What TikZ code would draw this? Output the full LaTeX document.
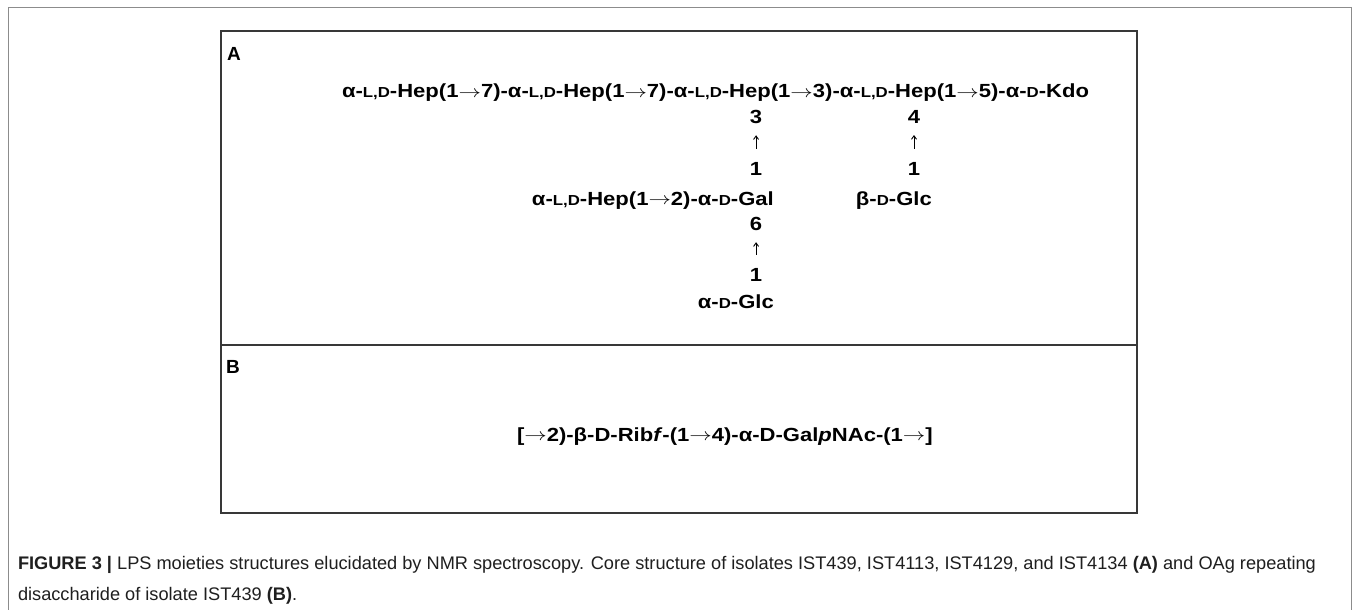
\documentclass[tikz,border=0pt]{standalone}
\usepackage{fontspec}
\setmainfont{Liberation Sans}
\newfontfamily\chemfont[FakeStretch=1.16]{Liberation Sans}
\usetikzlibrary{arrows.meta}
\newcommand{\sml}[1]{{\fontsize{14.5}{17}\selectfont #1}}
\newcommand{\ra}{\raisebox{0.5pt}{\scalebox{1.3}[1]{$\rightarrow$}}}
\tikzset{
  chem/.style={inner sep=0pt, outer sep=0pt, font=\chemfont\fontsize{19}{23}\selectfont\bfseries},
  captext/.style={inner sep=0pt, outer sep=0pt, anchor=base west, text=black!88, font=\fontsize{18.2}{21}\selectfont},
  lbl/.style={inner sep=0pt, outer sep=0pt, anchor=base west, font=\fontsize{19}{23}\selectfont\bfseries},
  link/.style={line width=0.9pt, -{Straight Barb[length=3.5pt,width=5pt]}, shorten <=13pt, shorten >=12pt},
  outerframe/.style={draw=black!45, line width=1pt},
  panel/.style={draw=black!78, line width=1.5pt}
}
\begin{document}
\begin{tikzpicture}[x=1pt,y=-1pt]
\useasboundingbox (0,0) rectangle (1358,610);
\fill[white] (0,0) rectangle (1358,610);
% frames
\draw[outerframe] (8,620) -- (8,8) -- (1351,8) -- (1351,620);
\draw[panel] (221,31) rectangle (1137,513);
\draw[panel] (221,345) -- (1137,345);
\node[lbl] (la) at (227,60) {A};
\node[lbl] (lb) at (226,373) {B};
% main chain
\node[chem, anchor=base west] (m1) at (342,98) {α-\sml{L,D}-Hep(1\ra7)-};
\node[chem, anchor=base west] (m2) at (m1.base east) {α-\sml{L,D}-Hep(1\ra7)-};
\node[chem, anchor=base west] (m3a) at (m2.base east) {α-\sml{L,D}-};
\node[chem, anchor=base west] (hep3) at (m3a.base east) {Hep};
\node[chem, anchor=base west] (m3b) at (hep3.base east) {(1\ra3)-};
\node[chem, anchor=base west] (m4a) at (m3b.base east) {α-\sml{L,D}-};
\node[chem, anchor=base west] (hep4) at (m4a.base east) {Hep};
\node[chem, anchor=base west] (m4b) at (hep4.base east) {(1\ra5)-};
\node[chem, anchor=base west] (m5) at (m4b.base east) {α-\sml{D}-Kdo};
\coordinate (colA) at ([xshift=6pt]hep3.base);
\coordinate (colB) at ([xshift=-2pt]hep4.base);
% branch at Hep 3
\node[chem, anchor=base] (p3) at (colA |- 0,123) {3};
\node[chem, anchor=base] (q1) at (colA |- 0,175) {1};
\draw[link] (q1.north) -- (p3.south);
\node[chem, anchor=base] (gal) at (colA |- 0,205) {Gal};
\node[chem, anchor=base east] (galpre) at (gal.base west) {α-\sml{L,D}-Hep(1\ra2)-α-\sml{D}-};
\node[chem, anchor=base] (p6) at (colA |- 0,230) {6};
\node[chem, anchor=base] (q2) at (colA |- 0,281) {1};
\draw[link] (q2.north) -- (p6.south);
\node[chem, anchor=base] (glc1) at (colA |- 0,308) {Glc};
\node[chem, anchor=base east] (glc1pre) at (glc1.base west) {α-\sml{D}-};
% branch at Hep 4
\node[chem, anchor=base] (p4) at (colB |- 0,123) {4};
\node[chem, anchor=base] (q3) at (colB |- 0,175) {1};
\draw[link] (q3.north) -- (p4.south);
\node[chem, anchor=base] (glc2) at (colB |- 0,205) {Glc};
\node[chem, anchor=base east] (glc2pre) at (glc2.base west) {β-\sml{D}-};
% panel B
\node[chem, anchor=base west] (oag) at (517,441) {[\ra2)-β-D-Rib\textit{f}-(1\ra4)-α-D-Gal\textit{p}NAc-(1\ra]};
% caption
\node[captext] (c1) at (18,569) {\textbf{FIGURE 3 |} LPS moieties structures elucidated by NMR spectroscopy. Core structure of isolates IST439, IST4113, IST4129, and IST4134 \textbf{(A)} and OAg repeating};
\node[captext] (c2) at (18,600) {disaccharide of isolate IST439 \textbf{(B)}.};
\end{tikzpicture}
\end{document}
